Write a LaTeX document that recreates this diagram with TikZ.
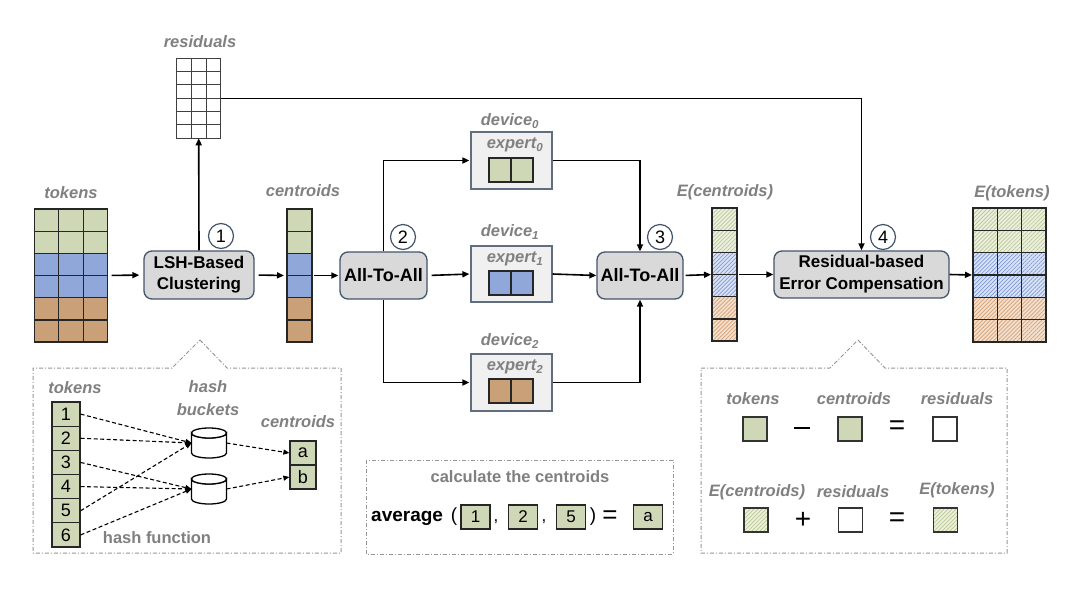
\documentclass[tikz,border=0pt]{standalone}
\usepackage{fontspec}
\setmainfont{Liberation Sans}
\usetikzlibrary{arrows.meta,patterns.meta}
\definecolor{gr}{RGB}{207,216,182}
\definecolor{bl}{RGB}{143,168,217}
\definecolor{br}{RGB}{201,160,120}
\definecolor{hgr}{RGB}{236,240,224}
\definecolor{hbl}{RGB}{218,227,246}
\definecolor{hbr}{RGB}{242,225,208}
\definecolor{sgr}{RGB}{185,199,145}
\definecolor{sbl}{RGB}{125,152,214}
\definecolor{sbr}{RGB}{214,158,112}
\definecolor{labgray}{RGB}{128,128,128}
\definecolor{edge}{RGB}{68,84,106}
\definecolor{boxfill}{RGB}{217,217,217}
\definecolor{devfill}{RGB}{240,240,240}
\definecolor{callgray}{RGB}{150,150,150}
\tikzset{
  lab/.style={font=\fontsize{16.5}{18}\selectfont\bfseries\itshape, text=labgray, inner sep=0},
  glab/.style={font=\fontsize{16.5}{18}\selectfont\bfseries, text=labgray, inner sep=0},
  proc/.style={rounded corners=8pt, draw=edge, line width=1.3pt, fill=boxfill, align=center,
    font=\fontsize{17}{21}\selectfont\bfseries, inner sep=0},
  devbox/.style={draw=edge!85, line width=1.2pt, fill=devfill, inner sep=0, minimum width=81pt},
  ghost/.style={inner sep=0, outer sep=0},
  circ/.style={circle, draw=edge, line width=1.2pt, fill=white, minimum size=25pt, inner sep=0,
    font=\fontsize{18}{18}\selectfont},
  cellline/.style={draw=black!85, line width=1.3pt},
  hatch/.style 2 args={preaction={fill=#1}, preaction={pattern={Lines[angle=45,distance=2.8pt,line width=0.7pt]}, pattern color=#2}},
  arr/.style={-{Triangle[length=7pt,width=6pt]}, line width=1.6pt},
  darr/.style={-{Triangle[length=6pt,width=5pt]}, line width=1.1pt, dash pattern=on 4pt off 2.5pt},
  callout/.style={draw=callgray, line width=1pt, dash pattern=on 4pt off 2pt on 1pt off 2pt},
  tcell/.style={draw=black!85, line width=1.2pt, fill=gr, minimum width=28pt, inner sep=0,
    font=\fontsize{18}{18}\selectfont},
  sq/.style={draw=black!85, line width=1.2pt, fill=gr, minimum width=29pt, minimum height=24pt, inner sep=0,
    font=\fontsize{17}{17}\selectfont},
  lsq/.style={draw=black!80, line width=1.3pt, minimum width=24pt, minimum height=24pt, inner sep=0},
  op/.style={inner sep=0, font=\fontsize{22}{22}\selectfont},
  bar/.style={fill=black, inner sep=0, minimum width=16pt, minimum height=2pt},
}
\begin{document}
\begin{tikzpicture}[x=1pt,y=-1pt]
\useasboundingbox[fill=white] (0,0) rectangle (1080,590);

% ---------- tokens grid ----------
\node[lab] (toklab) at (71,193) {tokens};
\node[ghost, minimum width=73.4pt, minimum height=133pt] (tok) at (71,275.5) {};
\foreach \r/\c in {0/gr,1/gr,2/bl,3/bl,4/br,5/br}
  \foreach \k in {0,1,2}
    \draw[cellline, fill=\c] ({34.3+\k*24.47},{209+\r*22.17}) rectangle +(24.47,22.17);

% ---------- residuals grid ----------
\node[lab] (reslab) at (200,42) {residuals};
\node[ghost, minimum width=44pt, minimum height=80pt] (res) at (198.7,98.3) {};
\foreach \r in {0,...,5}
  \foreach \k in {0,1,2}
    \draw[draw=black!75, line width=1pt, fill=white] ({176.7+\k*14.67},{58.3+\r*13.33}) rectangle +(14.67,13.33);

% ---------- LSH box ----------
\node[proc, minimum width=110pt, minimum height=48pt] (lsh) at (199,275) {LSH-Based\\Clustering};
\node[circ] (c1) at (221,236) {1};

% ---------- centroids ----------
\node[lab] (cenlab) at (303,191) {centroids};
\node[ghost, minimum width=25pt, minimum height=133pt] (cen) at (299.5,275.5) {};
\foreach \r/\c in {0/gr,1/gr,2/bl,3/bl,4/br,5/br}
  \draw[cellline, fill=\c] (287,{209+\r*22.17}) rectangle +(25,22.17);

% ---------- All-To-All 1 ----------
\node[proc, minimum width=87pt, minimum height=47pt, font=\fontsize{18}{20}\selectfont\bfseries] (ata1) at (383.5,275.5) {All-To-All};
\node[circ] (c2) at (403,237) {2};

% ---------- devices ----------
\node[devbox, minimum height=57pt] (dev0) at (511.5,160.5) {};
\node[devbox, minimum height=56pt] (dev1) at (511.5,274) {};
\node[devbox, minimum height=57pt] (dev2) at (511.5,382.5) {};
\node[lab] (d0lab) at (510,121) {device\textsubscript{0}};
\node[lab] (d1lab) at (510,232) {device\textsubscript{1}};
\node[lab] (d2lab) at (510,341) {device\textsubscript{2}};
\node[lab] (e0lab) at (515,145) {expert\textsubscript{0}};
\node[lab] (e1lab) at (515,259) {expert\textsubscript{1}};
\node[lab] (e2lab) at (515,367) {expert\textsubscript{2}};
\foreach \yy/\c in {158/gr,271/bl,379/br}
  \foreach \k in {0,1}
    \draw[cellline, fill=\c] ({489+\k*22},\yy) rectangle +(22,24);

% ---------- All-To-All 2 ----------
\node[proc, minimum width=86pt, minimum height=47pt, font=\fontsize{18}{20}\selectfont\bfseries] (ata2) at (640,275.5) {All-To-All};
\node[circ] (c3) at (660,237) {3};

% ---------- E(centroids) ----------
\node[lab] (ecenlab) at (725,192) {E(centroids)};
\node[ghost, minimum width=25pt, minimum height=133pt] (ecen) at (724.5,274.5) {};
\foreach \r/\a/\b in {0/hgr/sgr,1/hgr/sgr,2/hbl/sbl,3/hbl/sbl,4/hbr/sbr,5/hbr/sbr}
  \draw[cellline, hatch={\a}{\b}] (712,{208+\r*22.17}) rectangle +(25,22.17);

% ---------- Residual box ----------
\node[proc, minimum width=175pt, minimum height=47pt, font=\fontsize{17}{22}\selectfont\bfseries] (rec) at (861.5,274.5) {Residual-based\\Error Compensation};
\node[circ] (c4) at (883,237) {4};

% ---------- E(tokens) ----------
\node[lab] (etoklab) at (1012,193) {E(tokens)};
\node[ghost, minimum width=73pt, minimum height=134pt] (etok) at (1009.5,275) {};
\foreach \r/\a/\b in {0/hgr/sgr,1/hgr/sgr,2/hbl/sbl,3/hbl/sbl,4/hbr/sbr,5/hbr/sbr}
  \foreach \k in {0,1,2}
    \draw[cellline, hatch={\a}{\b}] ({973+\k*24.33},{208+\r*22.33}) rectangle +(24.33,22.33);

% ---------- main connectors ----------
\draw[arr, shorten <=4pt, shorten >=4pt] (tok.east) -- (lsh.west);
\draw[arr] (lsh.north) -- (res.south);
\draw[arr] (res.east) -| (rec.north);
\draw[arr, shorten <=4pt, shorten >=3pt] (lsh.east) -- (cen.west);
\draw[arr, shorten <=2pt, shorten >=1pt] (cen.east) -- (ata1.west);
\draw[arr, shorten >=1pt] (ata1.north) |- (dev0.west);
\draw[arr, shorten <=4pt, shorten >=1pt] (ata1.east) -- (dev1.west);
\draw[arr, shorten >=1pt] (ata1.south) |- (dev2.west);
\draw[arr] (dev0.east) -| (ata2.north);
\draw[arr] (dev1.east) -- (ata2.west);
\draw[arr] (dev2.east) -| (ata2.south);
\draw[arr, shorten <=2pt, shorten >=1pt] (ata2.east) -- (ecen.west);
\draw[arr, shorten <=2pt] (ecen.east) -- (rec.west);
\draw[arr, shorten >=1pt] (rec.east) -- (etok.west);

% ---------- left callout ----------
\draw[callout] (200,340) -- (227,368) -- (341,368) -- (341,553) -- (33,553) -- (33,368) -- (172,368) -- cycle;
\node[lab] (ctoklab) at (75,388) {tokens};
\foreach \i in {1,...,6}
  \node[tcell, minimum height=24.17pt] (t\i) at (66,{414.08+24.17*(\i-1)}) {\i};
\node[lab] (hashlab) at (208,387) {hash};
\node[lab] (bucklab) at (208,410) {buckets};
\node[ghost, minimum width=35pt, minimum height=30pt] (cy1) at (209,443) {};
\node[ghost, minimum width=35pt, minimum height=30pt] (cy2) at (209,489) {};
\draw[line width=1.3pt, fill=white] (191.5,433) -- (191.5,453) arc[start angle=180,end angle=0,x radius=17.5,y radius=5] -- (226.5,433) arc[start angle=0,end angle=180,x radius=17.5,y radius=5] -- cycle;
\draw[line width=1.3pt, fill=white] (209,433) ellipse[x radius=17.5,y radius=5];
\draw[line width=1.3pt, fill=white] (191.5,479) -- (191.5,499) arc[start angle=180,end angle=0,x radius=17.5,y radius=5] -- (226.5,479) arc[start angle=0,end angle=180,x radius=17.5,y radius=5] -- cycle;
\draw[line width=1.3pt, fill=white] (209,479) ellipse[x radius=17.5,y radius=5];
\node[lab] (ccenlab) at (298,422) {centroids};
\node[tcell, minimum width=26pt, minimum height=24pt] (ca) at (303,453) {a};
\node[tcell, minimum width=26pt, minimum height=24pt] (cb) at (303,477) {b};
\node[glab] (hashfn) at (157,538) {hash function};
\draw[darr] (t1.east) -- (cy1.west);
\draw[darr] (t2.east) -- (cy1.west);
\draw[darr] (t5.east) -- (cy1.west);
\draw[darr] (t3.east) -- (cy2.west);
\draw[darr] (t4.east) -- (cy2.west);
\draw[darr] (t6.east) -- (cy2.west);
\draw[darr] (cy1.east) -- (ca.west);
\draw[darr] (cy2.east) -- (cb.west);

% ---------- middle box ----------
\draw[callout] (366,460) rectangle (673,554);
\node[glab] (calclab) at (520,477) {calculate the centroids};
\node[inner sep=0, anchor=west, font=\fontsize{19}{19}\selectfont\bfseries] (avg) at (371,518) {average};
\node[op, font=\fontsize{19}{19}\selectfont] (lp) at (454,517) {(};
\node[sq] (n1) at (475.5,517) {1};
\node[op, font=\fontsize{17}{17}\selectfont] (cm1) at (496,522) {,};
\node[sq] (n2) at (523,517) {2};
\node[op, font=\fontsize{17}{17}\selectfont] (cm2) at (544,522) {,};
\node[sq] (n5) at (571,517) {5};
\node[op, font=\fontsize{19}{19}\selectfont] (rp) at (593,517) {)};
\node[op, font=\fontsize{26}{26}\selectfont] (eqm) at (610,517) {=};
\node[sq] (na) at (648,517) {a};

% ---------- right callout ----------
\draw[callout] (858,340) -- (885,368) -- (1007,368) -- (1007,553) -- (701,553) -- (701,368) -- (830,368) -- cycle;
\node[lab] (r1a) at (753,399) {tokens};
\node[lab] (r1b) at (854,399) {centroids};
\node[lab] (r1c) at (957,399) {residuals};
\node[lsq, fill=gr] (s1a) at (755,429) {};
\node[bar] (minus) at (802,428) {};
\node[lsq, fill=gr] (s1b) at (850,429) {};
\node[op, font=\fontsize{28}{28}\selectfont] (eq1) at (897,428) {=};
\node[lsq, fill=white] (s1c) at (945,429) {};
\node[lab] (r2a) at (757,492) {E(centroids)};
\node[lab] (r2b) at (853,492) {residuals};
\node[lab] (r2c) at (957,490) {E(tokens)};
\node[lsq, hatch={hgr}{sgr}] (s2a) at (756,520) {};
\node[op, font=\fontsize{28}{28}\selectfont] (plus) at (803,520) {+};
\node[lsq, fill=white] (s2b) at (850.5,520) {};
\node[op, font=\fontsize{28}{28}\selectfont] (eq2) at (897,520) {=};
\node[lsq, hatch={hgr}{sgr}] (s2c) at (945.5,520) {};
\end{tikzpicture}
\end{document}
